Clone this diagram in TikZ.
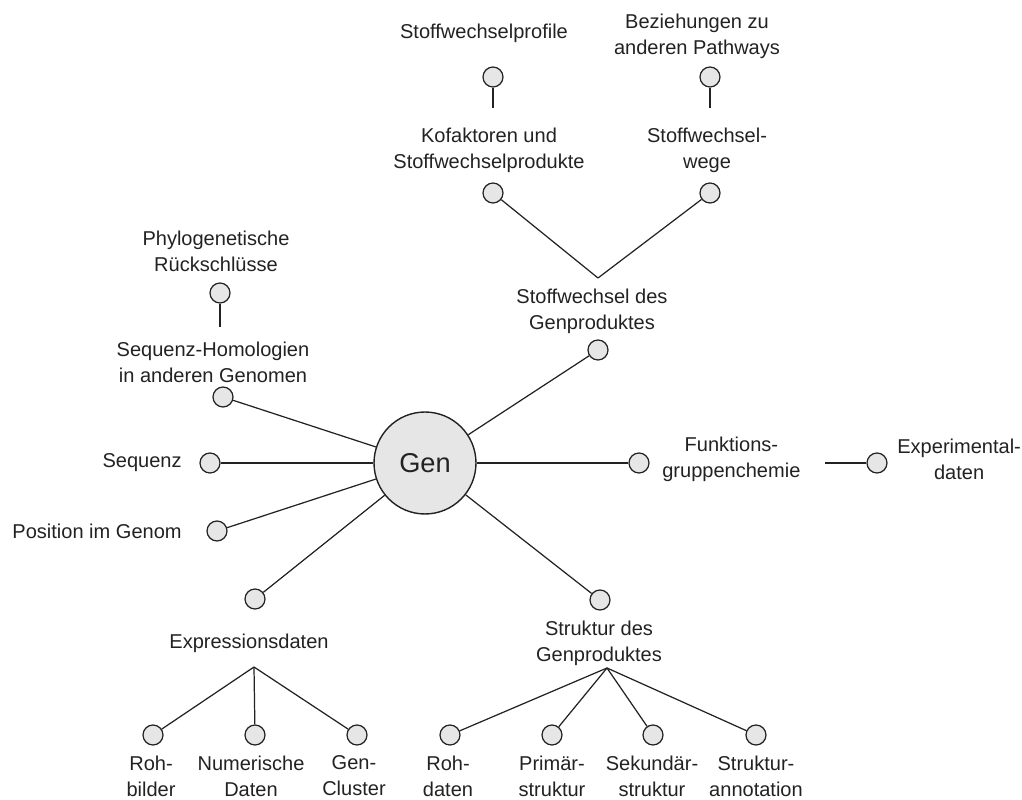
\documentclass[tikz,border=0pt]{standalone}
\usepackage{fontspec}
\setmainfont{Liberation Sans}
\definecolor{ink}{HTML}{222222}
\definecolor{dotfill}{HTML}{E6E6E6}
\begin{document}
\begin{tikzpicture}[x=0.02cm,y=-0.02cm,
  line/.style={draw=ink, line width=0.7pt},
  dot/.style={circle, draw=ink, fill=dotfill, line width=0.7pt, minimum size=0.4cm, inner sep=0pt},
  gencirc/.style={circle, draw=ink, fill=dotfill, line width=0.8pt, minimum size=2.04cm, inner sep=0pt,
    text=ink, font=\fontsize{15.5}{18}\selectfont},
  lbl/.style={align=center, text=ink, font=\fontsize{11.4}{14.8}\selectfont, inner sep=0pt},
]
\useasboundingbox (0,0) rectangle (1022,800);

% central node
\node[gencirc] (gen) at (425,463) {Gen};

% small circles
\node[dot] (dProfile) at (493,77) {};
\node[dot] (dPathways) at (710,77) {};
\node[dot] (dKofak) at (493,193) {};
\node[dot] (dWege) at (710,193) {};
\node[dot] (dPhylo) at (220,293) {};
\node[dot] (dStoff) at (598,350) {};
\node[dot] (dHomol) at (223,397) {};
\node[dot] (dSeq) at (210,463) {};
\node[dot] (dPos) at (217,531) {};
\node[dot] (dFunk) at (639,463) {};
\node[dot] (dExp) at (877,463) {};
\node[dot] (dExpr) at (255,599) {};
\node[dot] (dStrukt) at (600,600) {};
\node[dot] (dRohb) at (153,735) {};
\node[dot] (dNum) at (255,735) {};
\node[dot] (dClus) at (357,735) {};
\node[dot] (dRohd) at (450,735) {};
\node[dot] (dPrim) at (552,735) {};
\node[dot] (dSek) at (653,735) {};
\node[dot] (dAnn) at (756,735) {};

% branch points and line ends
\coordinate (jStoff) at (598,278);
\coordinate (jExpr) at (254,667);
\coordinate (jStrukt) at (607,668);
\coordinate (sProfile) at (493,108);
\coordinate (sPathways) at (710,108);
\coordinate (sPhylo) at (220,327);
\coordinate (sExp) at (825,463);

% labels
\node[lbl] (lProfile) at (484,33) {Stoffwechselprofile};
\node[lbl] (lPathways) at (697,36) {Beziehungen zu\\anderen Pathways};
\node[lbl] (lKofak) at (489,150) {Kofaktoren und\\Stoffwechselprodukte};
\node[lbl] (lWege) at (707,150) {Stoffwechsel-\\wege};
\node[lbl] (lPhylo) at (216,251) {Phylogenetische\\Rückschlüsse};
\node[lbl] (lStoff) at (592,311) {Stoffwechsel des\\Genproduktes};
\node[lbl] (lHomol) at (213,362) {Sequenz-Homologien\\in anderen Genomen};
\node[lbl, anchor=east] (lSeq) at (182,463) {Sequenz};
\node[lbl, anchor=east] (lPos) at (182,531) {Position im Genom};
\node[lbl, anchor=west] (lFunk) at (662,459) {Funktions-\\gruppenchemie};
\node[lbl, anchor=west] (lExp) at (897,459) {Experimental-\\daten};
\node[lbl] (lExpr) at (249,643) {Expressionsdaten};
\node[lbl] (lStrukt) at (599,643) {Struktur des\\Genproduktes};
\node[lbl] (lRohb) at (151,776) {Roh-\\bilder};
\node[lbl] (lNum) at (251,776) {Numerische\\Daten};
\node[lbl] (lClus) at (354,776) {Gen-\\Cluster};
\node[lbl] (lRohd) at (448,776) {Roh-\\daten};
\node[lbl] (lPrim) at (552,776) {Primär-\\struktur};
\node[lbl] (lSek) at (652,776) {Sekundär-\\struktur};
\node[lbl] (lAnn) at (756,776) {Struktur-\\annotation};

% connectors from the central node
\foreach \t in {dStoff,dHomol,dSeq,dPos,dFunk,dExpr,dStrukt}
  \draw[line] (gen) -- (\t);

% sub-branches
\draw[line] (jStoff) -- (dKofak);
\draw[line] (jStoff) -- (dWege);
\draw[line] (dProfile) -- (sProfile);
\draw[line] (dPathways) -- (sPathways);
\draw[line] (dPhylo) -- (sPhylo);
\draw[line] (sExp) -- (dExp);
\foreach \t in {dRohb,dNum,dClus}
  \draw[line] (jExpr) -- (\t);
\foreach \t in {dRohd,dPrim,dSek,dAnn}
  \draw[line] (jStrukt) -- (\t);
\end{tikzpicture}
\end{document}
